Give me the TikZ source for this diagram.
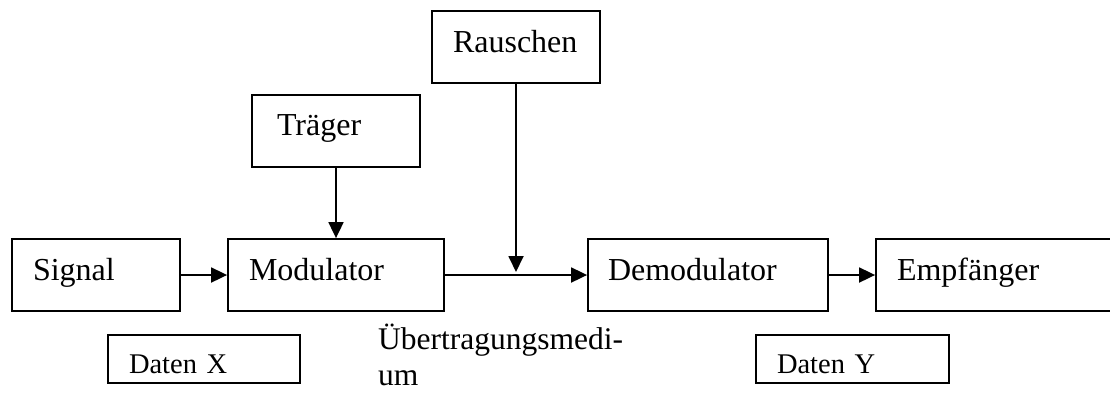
\documentclass[tikz,border=0pt]{standalone}
\usepackage{fontspec}
\setmainfont{Liberation Serif}
\usetikzlibrary{arrows.meta}
\begin{document}
\begin{tikzpicture}[x=1pt,y=-1pt,
  blk/.style={draw, line width=1.8pt, inner ysep=0pt, align=left,
    font=\fontsize{32}{36}\selectfont, text height=22pt, text depth=12pt,
    minimum height=72pt},
  small/.style={draw, line width=1.8pt, inner ysep=0pt, align=left,
    font=\fontsize{28.5}{34}\selectfont, text height=30pt, text depth=2pt,
    minimum height=48pt},
  conn/.style={line width=1.8pt, -{Triangle[length=16pt,width=15pt]}}]
\useasboundingbox (0,0) rectangle (1110,392);
\node[blk, minimum width=168pt, inner xsep=21pt, text width=126pt] (rausch) at (516,47) {Rauschen};
\node[blk, minimum width=168pt, inner xsep=25pt, text width=118pt, text depth=14pt] (traeger) at (336,131) {Träger};
\node[blk, minimum width=168pt, inner xsep=21pt, text width=126pt] (signal) at (96,275) {Signal};
\node[blk, minimum width=216pt, inner xsep=21pt, text width=174pt] (mod) at (336,275) {Modulator};
\node[blk, minimum width=240pt, inner xsep=20pt, text width=200pt] (demod) at (708,275) {Demodulator};
\node[blk, minimum width=240pt, inner xsep=21pt, text width=198pt] (empf) at (996,275) {Empfänger};
\node[small, minimum width=192pt, inner xsep=21pt, text width=150pt] (datx) at (204,359) {Daten X};
\node[small, minimum width=193pt, inner xsep=21pt, text width=151pt] (daty) at (852.5,359) {Daten Y};
\node[anchor=base west, inner sep=0pt, font=\fontsize{31.5}{36}\selectfont] (medium) at (378,349)
  {\begin{tabular}[t]{@{}l@{}}Übertragungsmedi-\\um\end{tabular}};
\coordinate (rn) at (516,272);
\draw[conn] (signal) -- (mod);
\draw[conn] (mod) -- (demod);
\draw[conn] (demod) -- (empf);
\draw[conn] (traeger) -- (mod);
\draw[conn] (rausch) -- (rn);
\end{tikzpicture}
\end{document}
